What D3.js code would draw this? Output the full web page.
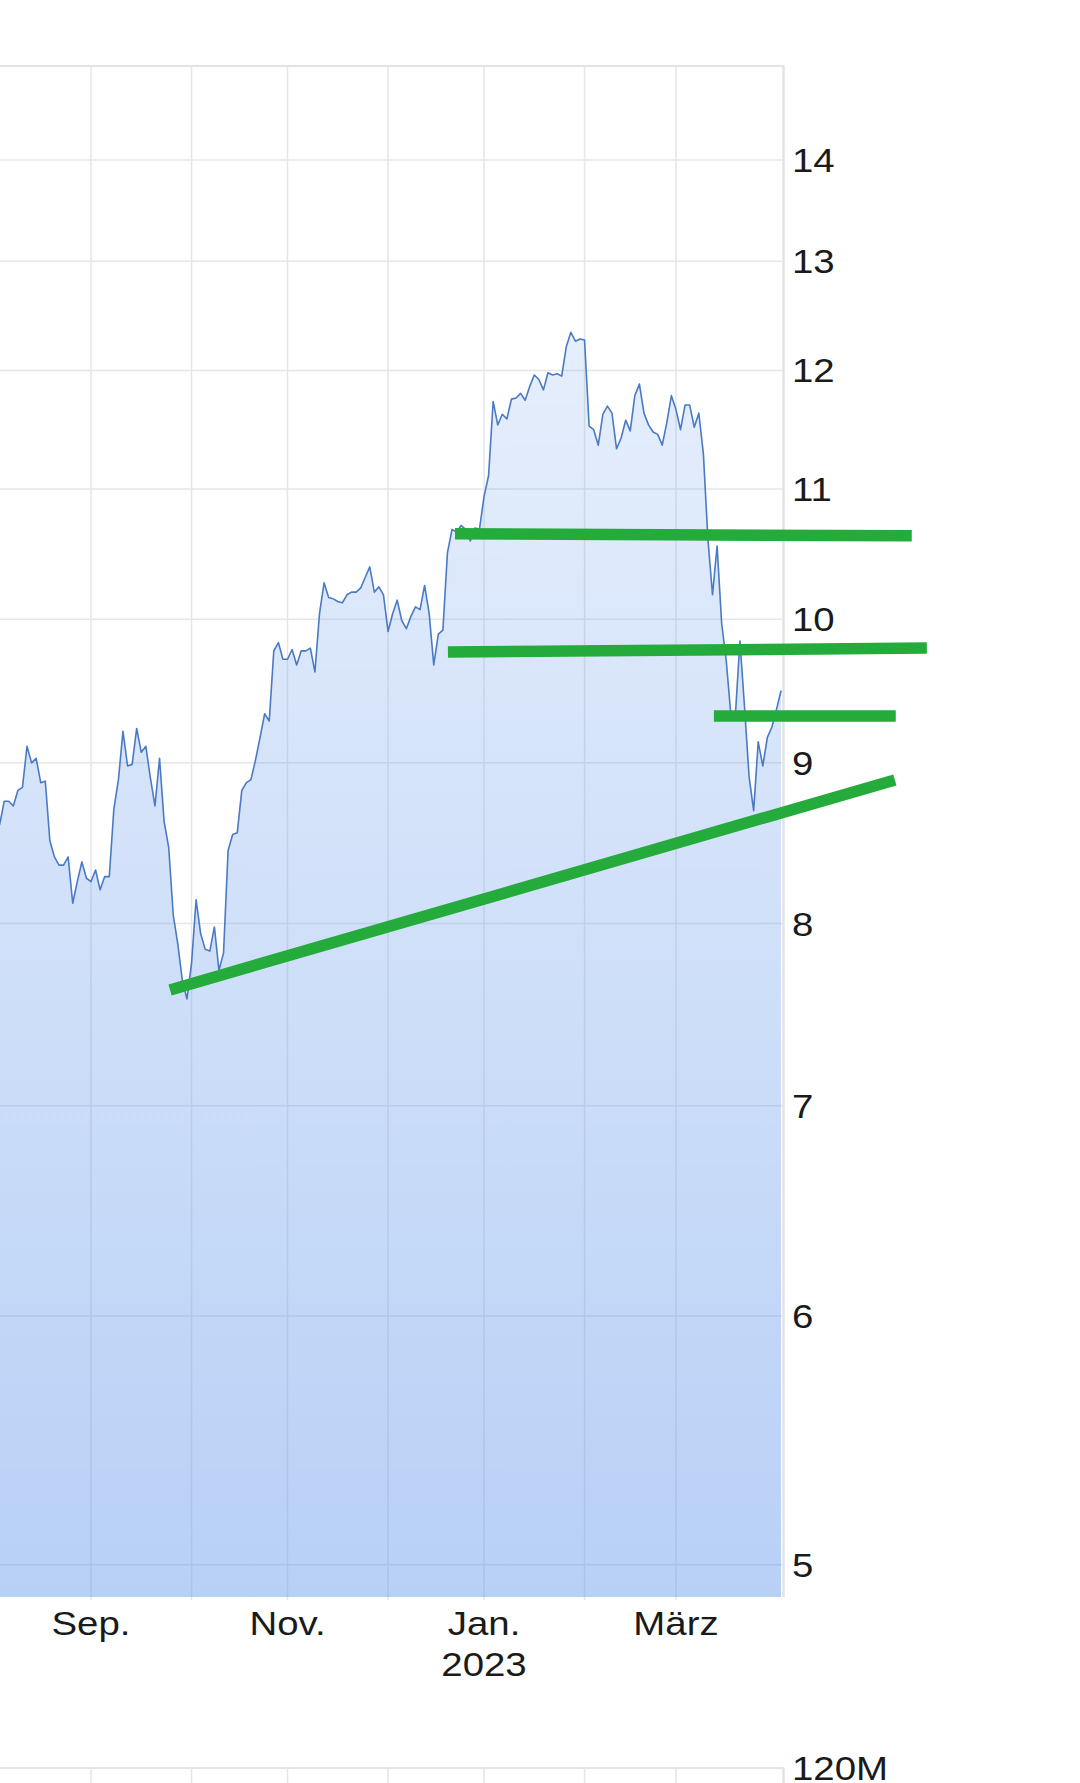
<!DOCTYPE html>
<html>
<head>
<meta charset="utf-8">
<script src="https://cdn.jsdelivr.net/npm/d3@7"></script>
<style>
  html, body { margin: 0; padding: 0; background: #ffffff; }
  svg { display: block; }
</style>
</head>
<body>
<svg id="chart" width="1080" height="1783"></svg>
<script>
// ---------------- DATA ----------------
// first visible trading day (Xetra calendar), holidays without trading
const startDate = "2022-08-04";
const holidays = ["2022-12-26"];

// daily closing prices (EUR), one per trading day from startDate
const pricesAug = [8.60, 8.75, 8.75, 8.72, 8.82, 8.84, 9.11, 9.00, 9.03, 8.87,
                   8.88, 8.50, 8.40, 8.35, 8.35, 8.40, 8.12, 8.25, 8.37, 8.27];
const pricesSep = [8.25, 8.32, 8.20, 8.28, 8.28, 8.70, 8.89, 9.21, 8.98, 8.99,
                   9.23, 9.07, 9.11, 8.90, 8.72, 9.03, 8.62, 8.46, 8.05, 7.88,
                   7.67, 7.57];
const pricesOct = [7.77, 8.14, 7.94, 7.85, 7.84, 7.98, 7.73, 7.83, 8.44, 8.54,
                   8.55, 8.82, 8.87, 8.89, 9.02, 9.17, 9.33, 9.28, 9.77, 9.83,
                   9.71];
const pricesNov = [9.71, 9.78, 9.67, 9.77, 9.77, 9.79, 9.62, 10.04, 10.27, 10.16,
                   10.15, 10.13, 10.12, 10.18, 10.20, 10.20, 10.23, 10.31, 10.39, 10.20,
                   10.24, 10.18];
const pricesDec = [9.91, 10.04, 10.14, 9.99, 9.93, 10.02, 10.09, 10.07, 10.25, 10.04,
                   9.67, 9.89, 9.92, 10.50, 10.68, 10.66, 10.71, 10.68, 10.59, 10.69,
                   10.68];
const pricesJan = [10.94, 11.11, 11.73, 11.53, 11.62, 11.58, 11.75, 11.76, 11.80, 11.74,
                   11.86, 11.96, 11.92, 11.83, 11.98, 11.96, 11.97, 11.95, 12.21, 12.34,
                   12.26, 12.28];
const pricesFeb = [12.27, 11.52, 11.49, 11.36, 11.62, 11.69, 11.63, 11.33, 11.42, 11.57,
                   11.48, 11.78, 11.88, 11.63, 11.53, 11.47, 11.45, 11.36, 11.55, 11.78];
const pricesMar = [11.66, 11.49, 11.70, 11.70, 11.51, 11.63, 11.29, 10.60, 10.18, 10.55,
                   9.97, 9.70, 9.33, 9.32, 9.84, 9.38, 8.91, 8.69, 9.14, 8.98,
                   9.17, 9.24, 9.36, 9.49];

// price axis ticks
const yTicks = [5, 6, 7, 8, 9, 10, 11, 12, 13, 14];
// month gridlines (first trading day of month) and their labels
const monthTicks = ["2022-09", "2022-10", "2022-11", "2022-12", "2023-01", "2023-02", "2023-03"];
const monthLabelKeys = ["2022-09", "2022-11", "2023-01", "2023-03"];
const monthLabelText = ["Sep.", "Nov.", "Jan.", "März"];
const monthLabelSub  = ["", "", "2023", ""];
// volume panel top tick label
const volumeTopLabel = "120M";

// hand-drawn support lines: [trading-day index, price] endpoints
const supportStartIdx = [99.65, 98.1, 156.3, 37.3];
const supportStartPx  = [10.645, 9.762, 9.315, 7.62];
const supportEndIdx   = [199.6, 202.9, 196.1, 195.9];
const supportEndPx    = [10.63, 9.79, 9.315, 8.888];

// ---------------- BUILD ----------------
const prices = [].concat(pricesAug, pricesSep, pricesOct, pricesNov, pricesDec,
                         pricesJan, pricesFeb, pricesMar);

const fmtDay = d3.utcFormat("%Y-%m-%d");
const fmtMonth = d3.utcFormat("%Y-%m");
const dates = [];
{
  let d = new Date(startDate + "T00:00:00Z");
  while (dates.length < prices.length) {
    const wd = d.getUTCDay();
    if (wd !== 0 && wd !== 6 && !holidays.includes(fmtDay(d))) dates.push(new Date(d));
    d = d3.utcDay.offset(d, 1);
  }
}
const series = prices.map((p, i) => ({ i, date: dates[i], price: p }));

// first trading-day index of each month
const firstIdx = {};
series.forEach(s => {
  const k = fmtMonth(s.date);
  if (!(k in firstIdx)) firstIdx[k] = s.i;
});

// ---------------- LAYOUT ----------------
const W = 1080, H = 1783;
const plotLeft = 0, plotRight = 783, plotTop = 66, plotBottom = 1597;
const dayStep = 4.57;
const firstX = -0.4;
const volTop = 1768;
const labelX = 792;
const fontFamily = "'Liberation Sans', Arial, sans-serif";
const fontSize = 34;
const textStretch = 1.13;

const x = d3.scaleLinear()
  .domain([0, prices.length - 1])
  .range([firstX, firstX + (prices.length - 1) * dayStep]);
const y = d3.scaleLog()
  .domain([4.883, 15.0])
  .range([plotBottom, plotTop]);

const svg = d3.select("#chart");
const defs = svg.append("defs");

defs.append("clipPath").attr("id", "plotClip")
  .append("rect")
  .attr("x", plotLeft).attr("y", plotTop)
  .attr("width", plotRight - plotLeft).attr("height", plotBottom - plotTop);

const grad = defs.append("linearGradient")
  .attr("id", "areaGrad")
  .attr("gradientUnits", "userSpaceOnUse")
  .attr("x1", 0).attr("y1", plotTop).attr("x2", 0).attr("y2", plotBottom);
grad.append("stop").attr("offset", "0%").attr("stop-color", "rgb(97,151,235)").attr("stop-opacity", 0.10);
grad.append("stop").attr("offset", "100%").attr("stop-color", "rgb(97,151,235)").attr("stop-opacity", 0.45);

const gridColor = "#e6e6e6";

// horizontal gridlines (price)
svg.append("g").selectAll("line").data(yTicks).join("line")
  .attr("x1", plotLeft).attr("x2", plotRight)
  .attr("y1", d => y(d)).attr("y2", d => y(d))
  .attr("stroke", gridColor).attr("stroke-width", 1.5);

// vertical gridlines (months) in price panel
const monthXs = monthTicks.map(k => x(firstIdx[k]));
svg.append("g").selectAll("line").data(monthXs).join("line")
  .attr("x1", d => d).attr("x2", d => d)
  .attr("y1", plotTop).attr("y2", plotBottom + 3)
  .attr("stroke", gridColor).attr("stroke-width", 1.5);

// area + line
const plotG = svg.append("g").attr("clip-path", "url(#plotClip)");
const area = d3.area()
  .x(d => x(d.i)).y0(plotBottom).y1(d => y(d.price));
const line = d3.line()
  .x(d => x(d.i)).y(d => y(d.price));

plotG.append("path").datum(series)
  .attr("d", area).attr("fill", "url(#areaGrad)");
plotG.append("path").datum(series)
  .attr("d", line).attr("fill", "none")
  .attr("stroke", "#4a7ac5").attr("stroke-width", 1.6)
  .attr("stroke-linejoin", "round");

// plot frame (top + right)
svg.append("line")
  .attr("x1", plotLeft).attr("x2", plotRight + 1.5)
  .attr("y1", plotTop).attr("y2", plotTop)
  .attr("stroke", "#e3e3e3").attr("stroke-width", 2);
svg.append("line")
  .attr("x1", plotRight + 0.5).attr("x2", plotRight + 0.5)
  .attr("y1", plotTop).attr("y2", plotBottom)
  .attr("stroke", "#e3e3e3").attr("stroke-width", 2.5);

// y axis labels
function stretchedText(g, tx, ty, txt, anchor) {
  g.append("text")
    .attr("transform", `translate(${tx},${ty}) scale(${textStretch},1)`)
    .attr("text-anchor", anchor)
    .attr("font-family", fontFamily)
    .attr("font-size", fontSize)
    .attr("fill", "#1a1a1a")
    .text(txt);
}
const yLab = svg.append("g");
yTicks.forEach(t => stretchedText(yLab, labelX, y(t) + 12, String(t), "start"));

// x axis labels
const xLab = svg.append("g");
monthLabelKeys.forEach((k, n) => {
  const cx = x(firstIdx[k]);
  stretchedText(xLab, cx, 1635, monthLabelText[n], "middle");
  if (monthLabelSub[n]) stretchedText(xLab, cx, 1676, monthLabelSub[n], "middle");
});

// volume panel (top part visible)
svg.append("line")
  .attr("x1", plotLeft).attr("x2", plotRight + 1.5)
  .attr("y1", volTop).attr("y2", volTop)
  .attr("stroke", "#e3e3e3").attr("stroke-width", 2);
svg.append("g").selectAll("line").data(monthXs).join("line")
  .attr("x1", d => d).attr("x2", d => d)
  .attr("y1", volTop).attr("y2", H)
  .attr("stroke", gridColor).attr("stroke-width", 1.5);
svg.append("line")
  .attr("x1", plotRight + 0.5).attr("x2", plotRight + 0.5)
  .attr("y1", volTop).attr("y2", H)
  .attr("stroke", "#e3e3e3").attr("stroke-width", 2.5);
stretchedText(svg, labelX, volTop + 12, volumeTopLabel, "start");

// support / trend lines
const supports = supportStartIdx.map((s, n) => ({
  x1: s, p1: supportStartPx[n], x2: supportEndIdx[n], p2: supportEndPx[n]
}));
svg.append("g").selectAll("line").data(supports).join("line")
  .attr("x1", d => x(d.x1)).attr("y1", d => y(d.p1))
  .attr("x2", d => x(d.x2)).attr("y2", d => y(d.p2))
  .attr("stroke", "#25ab3c").attr("stroke-width", 11.5)
  .attr("stroke-linecap", "butt");
</script>
</body>
</html>
